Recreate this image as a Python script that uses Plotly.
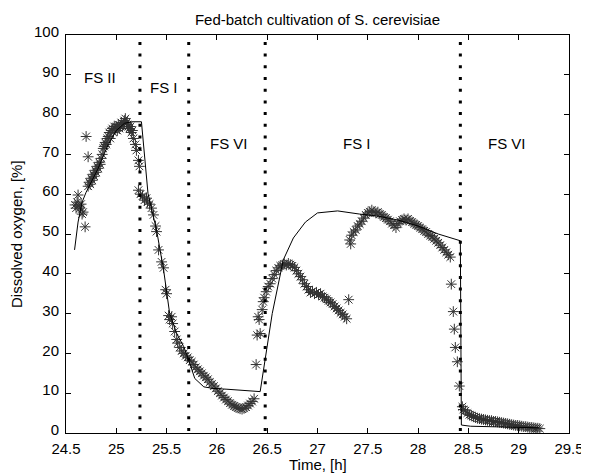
import plotly.graph_objects as go

# Measured dissolved oxygen (scatter, asterisks)
meas_time = [
    24.59, 24.60, 24.61, 24.62, 24.63, 24.64, 24.65, 24.66, 24.67, 24.69, 24.70, 24.72, 24.72, 24.73, 24.74,
    24.75, 24.76, 24.77, 24.78, 24.79, 24.80, 24.81, 24.82, 24.83, 24.84, 24.85, 24.86, 24.87, 24.88, 24.89,
    24.90, 24.91, 24.92, 24.93, 24.94, 24.95, 24.96, 24.97, 24.98, 24.99, 25.00, 25.01, 25.02, 25.03, 25.04,
    25.05, 25.06, 25.07, 25.08, 25.09, 25.10, 25.11, 25.12, 25.13, 25.14, 25.15, 25.16, 25.17, 25.19, 25.20,
    25.22, 25.23, 25.22, 25.24, 25.26, 25.28, 25.30, 25.31, 25.33,
    25.35, 25.37, 25.39, 25.40, 25.42, 25.45, 25.47, 25.49, 25.50, 25.52, 25.53, 25.55, 25.56, 25.58, 25.60,
    25.61, 25.63, 25.65, 25.67, 25.69, 25.71, 25.73, 25.75, 25.77, 25.79, 25.81, 25.83, 25.85, 25.87, 25.89,
    25.91, 25.93, 25.95, 25.97, 25.99, 26.01, 26.03, 26.05, 26.07, 26.09, 26.11, 26.13, 26.15, 26.17, 26.19,
    26.21, 26.23, 26.25, 26.27, 26.29, 26.31, 26.33, 26.35, 26.37,
    26.39, 26.40, 26.41, 26.42, 26.43, 26.45, 26.46, 26.47, 26.49, 26.51, 26.53, 26.55, 26.57, 26.59, 26.61,
    26.63, 26.65, 26.67, 26.69, 26.71, 26.73, 26.75, 26.77, 26.79, 26.81, 26.83, 26.85, 26.87, 26.89, 26.91,
    26.93, 26.95, 26.97, 26.99, 27.01, 27.03, 27.05, 27.07, 27.09, 27.11, 27.13, 27.15, 27.17, 27.19, 27.21,
    27.23, 27.25, 27.27, 27.29, 27.31,
    27.32, 27.33, 27.34, 27.36, 27.38, 27.40, 27.42, 27.44, 27.46, 27.48, 27.50, 27.52, 27.54, 27.56, 27.58,
    27.60, 27.62, 27.64, 27.66, 27.68, 27.70, 27.72, 27.74, 27.76, 27.78, 27.80, 27.82, 27.84, 27.86, 27.88,
    27.90, 27.92, 27.94, 27.96, 27.98, 28.00, 28.02, 28.04, 28.06, 28.08, 28.10, 28.12, 28.14, 28.16, 28.18,
    28.20, 28.22, 28.24, 28.26, 28.28, 28.30, 28.32,
    28.33, 28.35, 28.36, 28.37, 28.39, 28.41, 28.44, 28.45, 28.47, 28.49, 28.51, 28.53, 28.55, 28.57, 28.59,
    28.61, 28.63, 28.65, 28.67, 28.69, 28.71, 28.73, 28.75, 28.77, 28.79, 28.81, 28.83, 28.85, 28.87, 28.89,
    28.91, 28.93, 28.95, 28.97, 28.99, 29.01, 29.03, 29.05, 29.07, 29.09, 29.11, 29.13, 29.15, 29.17, 29.19,
    29.21,
]
meas_do = [
    57.3, 56.5, 58.0, 59.8, 57.0, 56.5, 57.5, 55.0, 55.5, 51.8, 74.5, 69.4, 62.0, 63.0, 62.5,
    64.0, 63.5, 65.0, 64.5, 66.0, 65.5, 67.0, 66.5, 68.0, 67.5, 69.0, 70.0, 71.5, 72.0, 73.0,
    72.5, 74.0, 74.5, 75.5, 74.0, 76.0, 76.5, 75.5, 77.0, 76.5, 77.0, 76.0, 77.5, 76.5, 77.0,
    78.0, 77.0, 77.5, 78.5, 79.0, 78.0, 77.5, 77.0, 76.5, 77.0, 75.5, 76.0, 74.0, 72.5, 71.0,
    68.5, 67.0, 61.0, 60.0, 59.5, 58.5, 59.0, 58.0, 57.5,
    56.5, 54.8, 52.0, 50.6, 46.0, 43.0, 41.5, 36.0, 35.0, 29.5, 28.5, 29.2, 27.5, 25.5, 23.5,
    22.6, 21.5, 20.6, 20.0, 19.4, 19.0, 18.3, 17.9, 17.2, 16.5, 16.0, 15.5, 15.0, 14.4, 14.0,
    13.5, 12.8, 12.3, 11.8, 11.2, 10.5, 10.0, 9.4, 8.9, 8.4, 8.0, 7.5, 7.1, 6.8, 6.5,
    6.3, 6.1, 6.0, 6.2, 6.5, 6.9, 7.4, 7.9, 8.6,
    17.2, 24.6, 29.2, 28.5, 25.0, 31.0, 33.0, 34.0, 35.5, 36.8, 37.5, 38.8, 39.8, 40.8, 41.5,
    42.0, 42.2, 42.5, 42.2, 42.6, 42.3, 42.0, 41.6, 40.8, 40.0, 39.3, 38.5, 37.5, 36.8, 36.0,
    35.3, 35.6, 35.0, 35.3, 34.8, 35.0, 34.3, 34.0, 33.6, 33.2, 32.8, 32.4, 31.8, 31.3, 30.8,
    30.2, 29.8, 29.2, 28.7, 33.5,
    48.5, 47.5, 49.7, 50.5, 51.0, 52.0, 52.5, 53.2, 54.0, 54.8, 55.3, 55.6, 56.0, 55.6, 55.3,
    55.5, 55.0, 54.8, 54.3, 54.0, 53.6, 53.2, 52.6, 52.2, 51.6, 52.6, 53.2, 53.5, 53.8, 53.5,
    53.8, 53.3, 53.0, 52.6, 52.3, 52.0, 51.6, 51.2, 50.8, 50.5, 50.0, 49.6, 49.3, 48.8, 48.3,
    47.8, 47.2, 46.6, 46.0, 45.4, 44.8, 44.2,
    37.4, 30.5, 26.1, 21.5, 17.9, 11.8, 6.6, 5.9, 5.6, 5.0, 4.6, 4.4, 4.1, 3.9, 3.7,
    3.6, 3.5, 3.4, 3.3, 3.2, 3.1, 3.1, 2.9, 2.9, 2.8, 2.7, 2.6, 2.5, 2.4, 2.3,
    2.2, 2.1, 2.0, 1.9, 1.9, 1.8, 1.7, 1.6, 1.6, 1.5, 1.4, 1.4, 1.3, 1.2, 1.2,
    1.1,
]

# Model prediction (solid line)
model_time = [24.585, 24.62, 24.66, 24.70, 24.76, 24.82, 24.86, 24.92, 25.00, 25.08, 25.15, 25.25,
              25.315, 25.40, 25.47, 25.53, 25.60, 25.67, 25.72, 25.78, 25.87, 25.96, 26.10, 26.43,
              26.55, 26.66, 26.76, 26.88, 27.00, 27.20, 27.42, 27.60, 27.80, 28.00, 28.20, 28.42,
              28.43, 28.52, 29.20]
model_do = [46.0, 53.0, 58.0, 60.5, 63.5, 66.5, 69.0, 72.5, 76.0, 77.8, 78.2, 78.2,
            60.2, 51.0, 41.0, 30.1, 25.0, 21.7, 18.3, 13.7, 11.6, 11.2, 11.0, 10.4,
            30.0, 43.5, 49.0, 53.0, 55.3, 55.8, 55.0, 54.5, 53.5, 52.0, 50.0, 48.3,
            2.0, 1.7, 1.3]

# Feeding strategy switch times (dotted lines)
switch_times = [25.235, 25.72, 26.48, 28.42]

# Phase labels
phase_labels = ["FS II", "FS I", "FS VI", "FS I", "FS VI"]
phase_x = [24.84, 25.474, 26.12, 27.39, 28.88]
phase_y = [89.3, 86.8, 72.7, 72.7, 72.7]

x_ticks = [24.5, 25, 25.5, 26, 26.5, 27, 27.5, 28, 28.5, 29, 29.5]
x_tick_text = ["24.5", "25", "25.5", "26", "26.5", "27", "27.5", "28", "28.5", "29", "29.5"]
y_ticks = list(range(0, 101, 10))

FONT = "Liberation Sans, Arial, Helvetica, sans-serif"
FS = 15

# The page body adds an 8px offset; size the figure so the plot lands where the reference has it.
OFF = 8
W, H = 589 - OFF, 473 - OFF
L, R, T, B = 66 - OFF, 20, 35 - OFF, 40
pw, ph = W - L - R, H - T - B

fig = go.Figure()

fig.add_trace(go.Scatter(
    x=meas_time, y=meas_do, mode="markers",
    marker=dict(symbol="asterisk-open", size=9, color="#333333",
                line=dict(width=1, color="#333333")),
    showlegend=False, hoverinfo="x+y",
))

fig.add_trace(go.Scatter(
    x=model_time, y=model_do, mode="lines",
    line=dict(color="black", width=1),
    showlegend=False,
))

for t in switch_times:
    fig.add_trace(go.Scatter(
        x=[t, t], y=[0.5, 100], mode="lines",
        line=dict(color="black", width=3, dash="3px,8.7px"),
        showlegend=False, hoverinfo="skip",
    ))

for lbl, px, py in zip(phase_labels, phase_x, phase_y):
    fig.add_annotation(x=px, y=py, text=lbl, showarrow=False,
                       font=dict(family=FONT, size=FS, color="black"),
                       xanchor="center", yanchor="middle")

# Axis titles as paper-anchored annotations
fig.add_annotation(xref="paper", yref="paper", x=0.5, y=-31 / ph,
                   text="Time, [h]", showarrow=False, xanchor="center", yanchor="middle",
                   font=dict(family=FONT, size=FS, color="black"))
fig.add_annotation(xref="paper", yref="paper", x=-50 / pw, y=0.5,
                   text="Dissolved oxygen, [%]", showarrow=False, textangle=-90,
                   xanchor="center", yanchor="middle",
                   font=dict(family=FONT, size=FS, color="black"))

axis_common = dict(
    showline=True, linecolor="black", linewidth=1, mirror="allticks",
    ticks="inside", ticklen=5, tickcolor="black", tickwidth=1,
    showgrid=False, zeroline=False, automargin=False,
    tickfont=dict(family=FONT, size=FS, color="black"),
)

fig.update_layout(
    width=W, height=H,
    margin=dict(l=L, r=R, t=T, b=B),
    paper_bgcolor="white", plot_bgcolor="white",
    title=dict(text="Fed-batch cultivation of S. cerevisiae", x=(L + pw / 2) / W, xanchor="center",
               y=1 - (19.5 - OFF) / H, yanchor="middle",
               font=dict(family=FONT, size=FS, color="black")),
    xaxis=dict(range=[24.5, 29.5], tickvals=x_ticks, ticktext=x_tick_text, ticklabelstandoff=2,
               **axis_common),
    yaxis=dict(range=[0, 100], tickvals=y_ticks, ticklabelstandoff=3, ticklabelshift=-3,
               **axis_common),
)

fig.write_html("out.html")
